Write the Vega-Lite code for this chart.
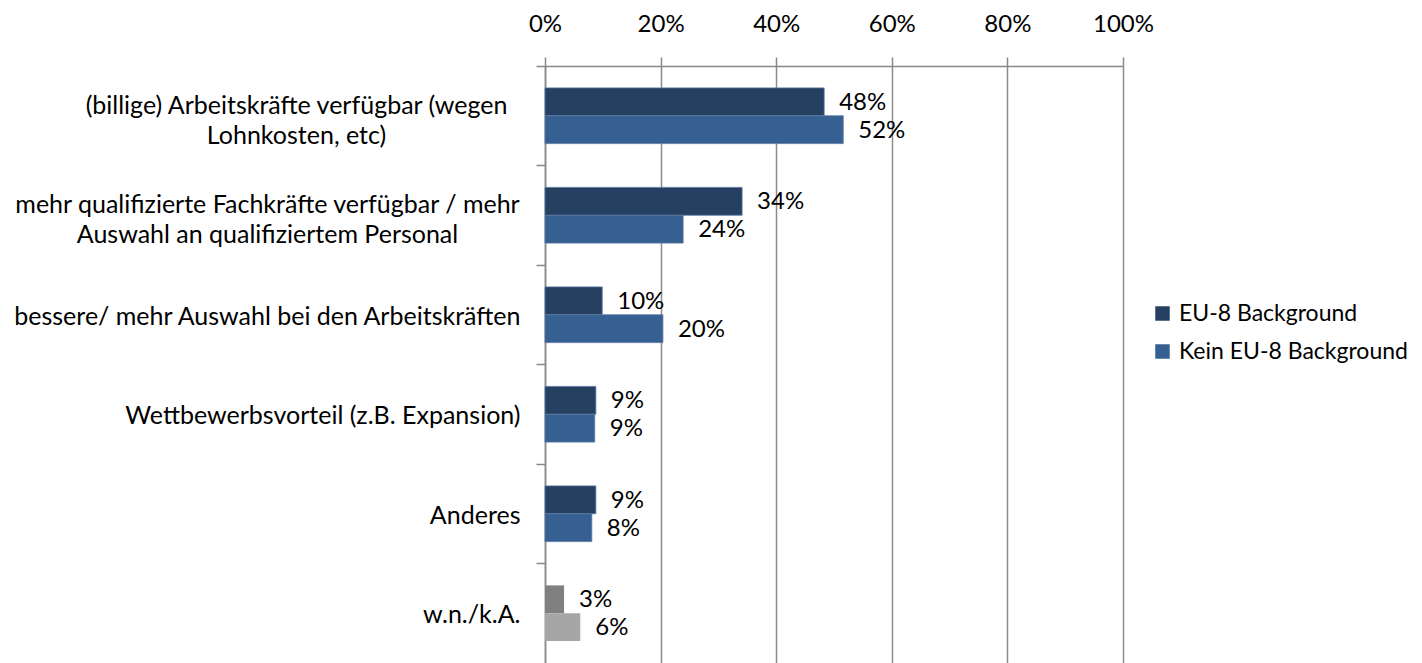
{
  "$schema": "https://vega.github.io/schema/vega-lite/v6.json",
  "autosize": {"type": "none"},
  "padding": {"left": 545, "top": 66, "right": 299, "bottom": 0},
  "width": 578,
  "height": 597,
  "background": "white",
  "config": {
    "font": "Lato",
    "view": {"stroke": null},
    "axis": {"labelFont": "Lato", "labelColor": "#000000"},
    "legend": {"labelFont": "Lato"}
  },
  "data": {
    "values": [
      {"cat": "(billige) Arbeitskräfte verfügbar (wegen|Lohnkosten, etc)", "series": "EU-8 Background", "value": 0.483},
      {"cat": "(billige) Arbeitskräfte verfügbar (wegen|Lohnkosten, etc)", "series": "Kein EU-8 Background", "value": 0.516},
      {"cat": "mehr qualifizierte Fachkräfte verfügbar / mehr|Auswahl an qualifiziertem Personal", "series": "EU-8 Background", "value": 0.341},
      {"cat": "mehr qualifizierte Fachkräfte verfügbar / mehr|Auswahl an qualifiziertem Personal", "series": "Kein EU-8 Background", "value": 0.239},
      {"cat": "bessere/ mehr Auswahl bei den Arbeitskräften", "series": "EU-8 Background", "value": 0.099},
      {"cat": "bessere/ mehr Auswahl bei den Arbeitskräften", "series": "Kein EU-8 Background", "value": 0.204},
      {"cat": "Wettbewerbsvorteil (z.B. Expansion)", "series": "EU-8 Background", "value": 0.088},
      {"cat": "Wettbewerbsvorteil (z.B. Expansion)", "series": "Kein EU-8 Background", "value": 0.086},
      {"cat": "Anderes", "series": "EU-8 Background", "value": 0.088},
      {"cat": "Anderes", "series": "Kein EU-8 Background", "value": 0.081},
      {"cat": "w.n./k.A.", "series": "EU-8 Background", "value": 0.033},
      {"cat": "w.n./k.A.", "series": "Kein EU-8 Background", "value": 0.061}
    ]
  },
  "encoding": {
    "y": {
      "field": "cat",
      "type": "nominal",
      "sort": null,
      "scale": {"paddingInner": 0.44, "paddingOuter": 0.22},
      "axis": {
        "title": null,
        "orient": "left",
        "bandPosition": -0.392857,
        "labelExpr": "split(datum.label, '|')",
        "labelFontSize": 25,
        "labelLineHeight": 30,
        "labelPadding": 16,
        "labelLimit": 700,
        "labelBaseline": "middle",
        "tickSize": 9,
        "tickColor": "#888888",
        "tickWidth": 1.5,
        "domainColor": "#888888",
        "domainWidth": 1.5,
        "grid": false,
        "encoding": {
          "labels": {
            "align": {"condition": {"test": "indexof(datum.value, '|') >= 0", "value": "center"}, "value": "right"},
            "dx": {"condition": [
              {"test": "indexof(datum.value, 'billige') >= 0", "value": -224},
              {"test": "indexof(datum.value, 'qualifizierte') >= 0", "value": -253}
            ], "value": 0},
            "dy": {"condition": {"test": "indexof(datum.value, '|') >= 0", "value": -10}, "value": 2}
          }
        }
      }
    },
    "yOffset": {"field": "series", "type": "nominal", "sort": ["EU-8 Background", "Kein EU-8 Background"], "scale": {"paddingInner": 0, "paddingOuter": 0}},
    "x": {
      "field": "value",
      "type": "quantitative",
      "scale": {"domain": [0, 1], "nice": false},
      "axis": {
        "title": null,
        "orient": "top",
        "values": [0, 0.2, 0.4, 0.6, 0.8, 1],
        "format": ".0%",
        "labelFlush": false,
        "labelFontSize": 24,
        "labelPadding": 21,
        "tickSize": 9,
        "tickColor": "#888888",
        "tickWidth": 1.5,
        "domainColor": "#888888",
        "domainWidth": 1.5,
        "grid": true,
        "gridColor": "#8c8c8c",
        "gridWidth": 1.5
      }
    }
  },
  "layer": [
    {
      "mark": {"type": "bar", "strokeWidth": 0.8},
      "encoding": {
        "color": {
          "condition": [
            {"test": "datum.cat == 'w.n./k.A.' && datum.series == 'EU-8 Background'", "value": "#808080"},
            {"test": "datum.cat == 'w.n./k.A.'", "value": "#a6a6a6"}
          ],
          "field": "series",
          "type": "nominal",
          "sort": ["EU-8 Background", "Kein EU-8 Background"],
          "scale": {"domain": ["EU-8 Background", "Kein EU-8 Background"], "range": ["#264061", "#376092"]},
          "legend": {
            "title": null,
            "orient": "none",
            "legendX": 606,
            "legendY": 236,
            "symbolType": "square",
            "symbolSize": 210,
            "symbolStrokeWidth": 0,
            "labelFontSize": 23,
            "labelOffset": 5,
            "labelLimit": 400,
            "rowPadding": 14,
            "labelColor": "#000000"
          }
        },
        "stroke": {
          "condition": {"test": "datum.cat == 'w.n./k.A.'", "value": null},
          "value": "#5877a0"
        }
      }
    },
    {
      "mark": {"type": "text", "align": "left", "baseline": "middle", "dx": 15, "dy": 1, "fontSize": 24, "color": "#000000"},
      "encoding": {
        "text": {"field": "value", "type": "quantitative", "format": ".0%"}
      }
    }
  ]
}
